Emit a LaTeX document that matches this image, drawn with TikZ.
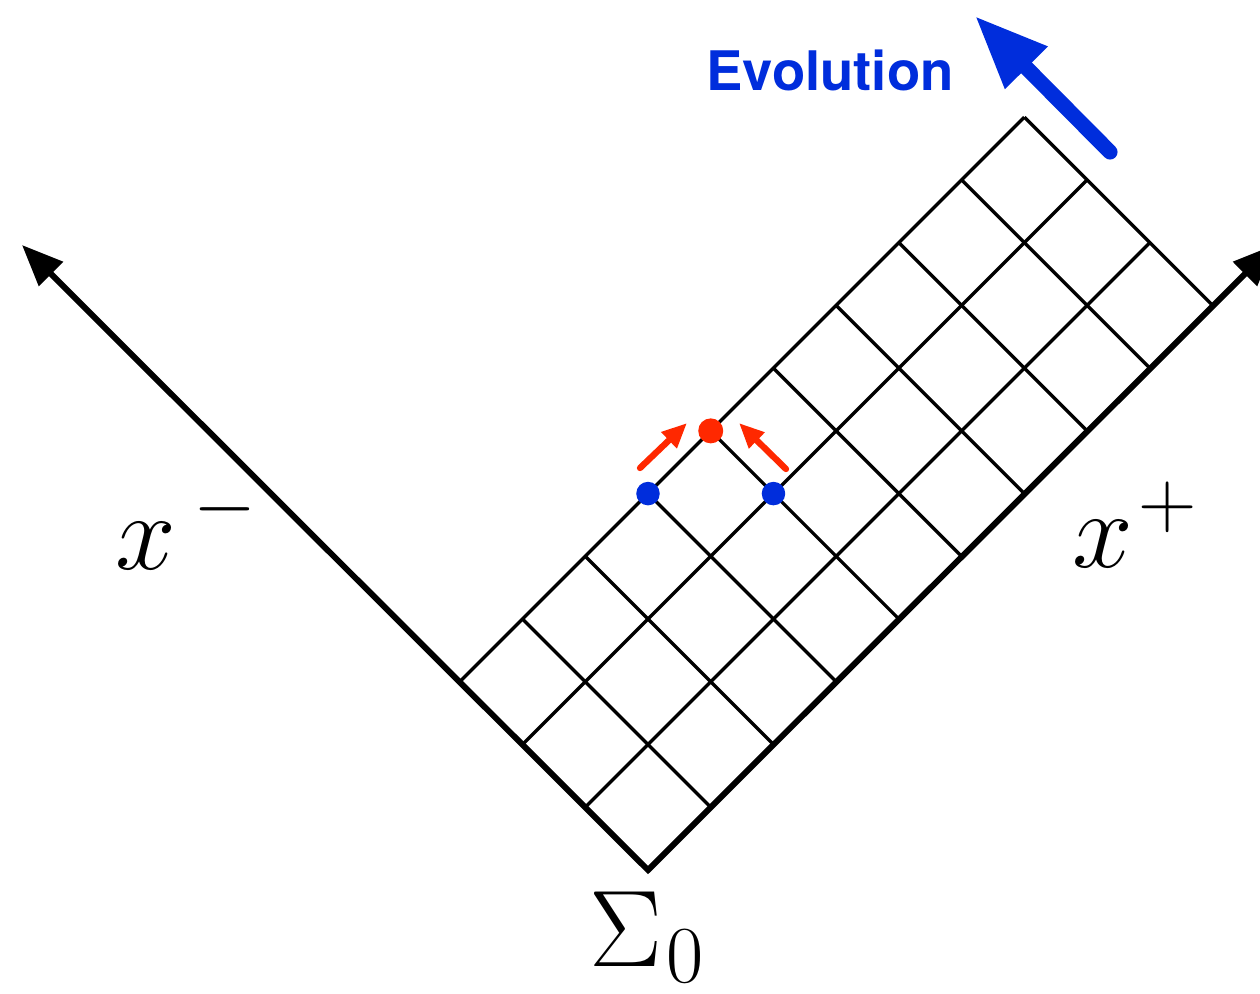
\RequirePackage{fix-cm}
\documentclass[tikz,border=0pt]{standalone}
\usepackage{fontspec}
\newfontfamily\evofont{TeX Gyre Heros}
\usetikzlibrary{arrows.meta}
\DeclareMathSizes{31}{31}{23}{17}
\definecolor{evoblue}{RGB}{0,45,220}
\definecolor{evored}{RGB}{255,40,0}

\tikzset{
  gridline/.style={line width=0.95pt},
  axisline/.style={line width=1.7pt, line join=miter,
    {Triangle[length=0.41cm,width=0.33cm]}-{Triangle[length=0.41cm,width=0.33cm]}},
  axislabel/.style={inner sep=0pt, font=\fontsize{31}{36}\selectfont},
  bluedot/.style={circle, fill=evoblue, inner sep=0pt, minimum size=0.235cm},
  reddot/.style={circle, fill=evored, inner sep=0pt, minimum size=0.25cm},
  stepArrow/.style={evored, line width=1.8pt, line cap=round,
    -{Triangle[length=0.25cm,width=0.21cm]}},
  evoarrow/.style={evoblue, line width=4.3pt, line cap=round,
    -{Triangle[length=0.73cm,width=0.56cm]}},
  evotext/.style={evoblue, inner sep=0pt, font={\evofont\bfseries\fontsize{15.5}{18}\selectfont}}
}

\begin{document}
\begin{tikzpicture}[x=0.01cm,y=-0.01cm]
  \useasboundingbox (0,0) rectangle (1260,993);

  % light-cone lattice
  \begin{scope}[shift={(648,870)}, x={(0.627cm,0.627cm)}, y={(-0.627cm,0.627cm)}]
    \foreach \u in {1,...,9} \draw[gridline] (\u,0) -- (\u,3);
    \foreach \v in {1,2,3} \draw[gridline] (0,\v) -- (9,\v);
    \coordinate (O) at (0,0);
    \node[bluedot] (left) at (3,3) {};
    \node[bluedot] (right) at (4,2) {};
    \node[reddot] (next) at (4,3) {};
  \end{scope}

  % axes
  \coordinate (xm) at (22,245);
  \coordinate (xp) at (1274,245);
  \draw[axisline] (xm) -- (O) -- (xp);
  \node[axislabel, anchor=base west] (lm) at (115,569) {$x^{\kern5pt-}$};
  \node[axislabel, anchor=base west] (lp) at (1072,567) {$x^{\kern1.5pt+}$};
  \node[axislabel, anchor=base west] (sig) at (589,966) {$\Sigma_{\kern1pt0}$};

  % update step
  \coordinate (la) at (640,468);
  \coordinate (lb) at (687,423);
  \coordinate (ra) at (786,469);
  \coordinate (rb) at (739,423);
  \draw[stepArrow] (la) -- (lb);
  \draw[stepArrow] (ra) -- (rb);

  % evolution direction
  \coordinate (evotail) at (1110,152);
  \coordinate (evotip) at (975,16);
  \draw[evoarrow] (evotail) -- (evotip);
  \node[evotext] (evo) at (830,70) {Evolution};
\end{tikzpicture}
\end{document}
